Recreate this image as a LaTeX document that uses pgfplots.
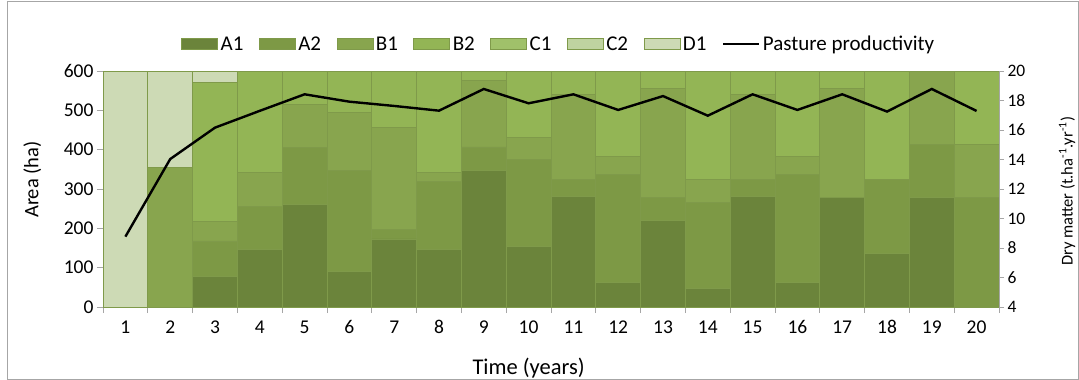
\documentclass[border=0pt]{standalone}
\usepackage{fontspec}
\setmainfont{Carlito}
\usepackage{pgfplots}
\pgfplotsset{compat=1.18}
\usepackage{pgfplotstable}

\definecolor{cA1}{HTML}{6B843B}
\definecolor{cA2}{HTML}{7D9945}
\definecolor{cB1}{HTML}{88A54E}
\definecolor{cB2}{HTML}{93B555}
\definecolor{cC1}{HTML}{A0C16A}
\definecolor{cC2}{HTML}{BFD3A0}
\definecolor{cD1}{HTML}{CDDAB5}
\definecolor{cBorder}{HTML}{7F9A4A}
\definecolor{axgray}{HTML}{A6A6A6}

\pgfplotstableread{
x A1 A2 B1 B2 C1 C2 D1
1 0 0 0 0 0 0 600
2 0 0 355 0 0 0 245
3 78 90 50 352 0 0 30
4 147 108 87 258 0 0 0
5 261 145 109 85 0 0 0
6 90 258 147 105 0 0 0
7 173 24 259 144 0 0 0
8 147 172 23 258 0 0 0
9 348 59 170 23 0 0 0
10 155 219 56 170 0 0 0
11 280 45 216 59 0 0 0
12 62 275 45 218 0 0 0
13 219 60 277 44 0 0 0
14 47 218 60 275 0 0 0
15 280 45 216 59 0 0 0
16 62 275 45 218 0 0 0
17 279 0 277 44 0 0 0
18 136 189 0 275 0 0 0
19 279 134 187 0 0 0 0
20 0 279 134 187 0 0 0
}\areatable

\pgfplotstableread{
x y
1 8.77
2 14.03
3 16.16
4 17.30
5 18.42
6 17.92
7 17.63
8 17.31
9 18.78
10 17.81
11 18.42
12 17.36
13 18.30
14 16.97
15 18.42
16 17.36
17 18.42
18 17.25
19 18.78
20 17.29
}\prodtable

\begin{document}
\begin{tikzpicture}[x=1pt,y=1pt]
\path[use as bounding box] (0,0) rectangle (1079,380);
\draw[axgray, line width=0.8pt] (7,1) rectangle (1078,379);
\begin{axis}[
  at={(103pt,73pt)}, anchor=south west,
  scale only axis, width=896pt, height=236pt,
  ybar stacked, bar width=44.8pt,
  xmin=0.5, xmax=20.5, ymin=0, ymax=600,
  ytick={0,100,...,600},
  xtick={1,...,20},
  xtick pos=bottom, ytick pos=left,
  tick align=outside,
  major x tick style={draw=none},
  major y tick style={draw=axgray, line width=0.8pt},
  major tick length=6pt,
  extra x ticks={0.5,1.5,...,20.5},
  extra x tick labels={},
  extra x tick style={major x tick style={draw=axgray, line width=0.8pt}},
  axis line style={draw=axgray, line width=0.8pt},
  /pgf/number format/assume math mode=true,
  tick label style={font=\fontsize{19.5}{22}\selectfont},
  xticklabel style={yshift=-4pt},
  ylabel={Area (ha)},
  ylabel style={at={(axis description cs:-0.079,0.54)}, anchor=center, rotate=0, font=\fontsize{20.5}{23}\selectfont},
  xlabel={Time (years)},
  xlabel style={at={(axis description cs:0.475,-0.258)}, anchor=center, font=\fontsize{22.5}{25}\selectfont},
  legend columns=8,
  legend style={at={(axis description cs:0.509,1.114)}, anchor=center, draw=none, fill=none,
    font=\fontsize{21}{24}\selectfont,
    /tikz/every even column/.append style={column sep=13pt},
    nodes={inner ysep=1.5pt, inner xsep=2.5pt}},
  legend image code/.code={\draw[#1, draw=cBorder, line width=0.8pt] (0pt,-5.5pt) rectangle (36pt,5.5pt);},
  every axis plot/.append style={draw=cBorder, line width=0.8pt},
]
\addplot[fill=cA1] table[x=x,y=A1]{\areatable};\addlegendentry{A1}
\addplot[fill=cA2] table[x=x,y=A2]{\areatable};\addlegendentry{A2}
\addplot[fill=cB1] table[x=x,y=B1]{\areatable};\addlegendentry{B1}
\addplot[fill=cB2] table[x=x,y=B2]{\areatable};\addlegendentry{B2}
\addplot[fill=cC1] table[x=x,y=C1]{\areatable};\addlegendentry{C1}
\addplot[fill=cC2] table[x=x,y=C2]{\areatable};\addlegendentry{C2}
\addplot[fill=cD1] table[x=x,y=D1]{\areatable};\addlegendentry{D1}
\addlegendimage{legend image code/.code={\draw[black, line width=2.4pt] (0pt,0pt) -- (36pt,0pt);}}
\addlegendentry{Pasture productivity}
\end{axis}
\begin{axis}[
  at={(103pt,73pt)}, anchor=south west,
  scale only axis, width=896pt, height=236pt,
  xmin=0.5, xmax=20.5, ymin=4, ymax=20,
  ytick={4,6,...,20},
  axis x line=none, axis y line*=right,
  tick align=outside,
  major tick length=5pt,
  major y tick style={draw=axgray, line width=0.8pt},
  axis line style={draw=axgray, line width=0.8pt},
  /pgf/number format/assume math mode=true,
  tick label style={font=\fontsize{17.5}{20}\selectfont},
  ylabel={Dry matter (t.ha\textsuperscript{-1}.yr\textsuperscript{-1})},
  ylabel style={at={(axis description cs:1.0759,0.49)}, anchor=center, rotate=0, font=\fontsize{16.5}{19}\selectfont},
]
\addplot[black, line width=2.4pt, mark=none] table[x=x,y=y]{\prodtable};
\end{axis}
\end{tikzpicture}
\end{document}
